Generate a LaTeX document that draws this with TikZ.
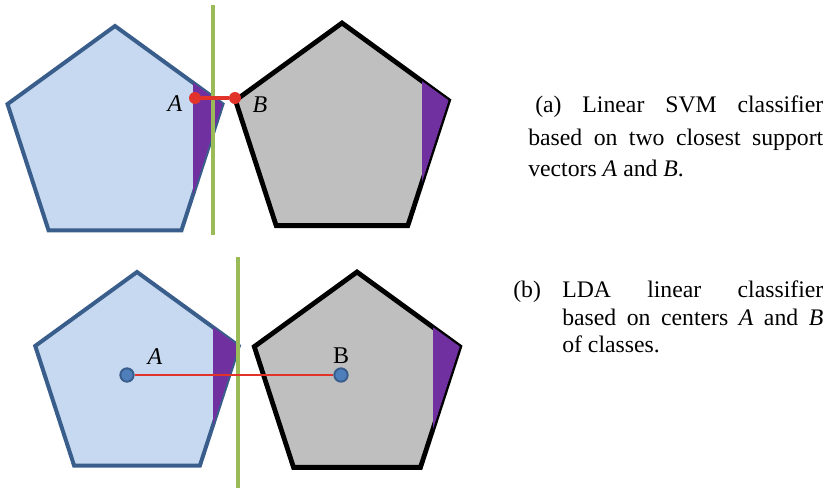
\documentclass[tikz,border=0pt]{standalone}
\usepackage{fontspec}
\setmainfont{Liberation Serif}
\definecolor{classblue}{HTML}{C6D9F0}
\definecolor{edgeblue}{HTML}{3A5E8C}
\definecolor{classgray}{HTML}{BFBFBF}
\definecolor{margin}{HTML}{7030A0}
\definecolor{hyperplane}{HTML}{9BBB59}
\definecolor{linkred}{HTML}{E2332A}
\definecolor{centerblue}{HTML}{4F7FBA}
\begin{document}
\begin{tikzpicture}[x=0.75pt,y=-0.75pt,
  support/.style={circle,fill=linkred,inner sep=0pt,minimum size=9pt},
  center/.style={circle,fill=centerblue,draw=edgeblue,line width=1.5pt,inner sep=0pt,minimum size=10pt},
  lab/.style={inner sep=0pt,font=\fontsize{18}{20}\selectfont},
  caption/.style={inner sep=0pt,anchor=base west,font=\fontsize{17.8}{20}\selectfont}]
\useasboundingbox (0,0) rectangle (828,494);

\foreach \cx/\cy/\r/\cut/\fc/\dc/\lw in {115/139/113/193/classblue/edgeblue/3pt,342/135/112/422/classgray/black/3.6pt,137/379/107/213/classblue/edgeblue/3pt,357/380/108/433/classgray/black/3.6pt}
{
\draw[fill=\fc,draw=\dc,line width=\lw,shift={(\cx,\cy)}] (270:\r) -- (342:\r) -- (54:\r) -- (126:\r) -- (198:\r) -- cycle;
\begin{scope}
\clip[shift={(\cx,\cy)}] (270:\r) -- (342:\r) -- (54:\r) -- (126:\r) -- (198:\r) -- cycle;
\fill[margin] (\cut,0) rectangle (828,494);
\end{scope}
}

\coordinate (svmtop) at (213,5);
\coordinate (svmbot) at (213,235);
\draw[hyperplane,line width=3pt] (svmtop) -- (svmbot);
\node[support] (svmA) at (195,98) {};
\node[support] (svmB) at (235,98) {};
\draw[linkred,line width=2.5pt] (svmA) -- (svmB);
\node[lab] (labsvmA) at (175,103.5) {\textit{A}};
\node[lab] (labsvmB) at (260,104.5) {\textit{B}};

\coordinate (ldatop) at (238,257);
\coordinate (ldabot) at (238,488);
\draw[hyperplane,line width=3pt] (ldatop) -- (ldabot);
\node[center] (ldaA) at (127,375) {};
\node[center] (ldaB) at (341,375) {};
\draw[linkred,line width=1.2pt] (ldaA) -- (ldaB);
\node[lab] (labldaA) at (155,357) {\textit{A}};
\node[lab] (labldaB) at (341,356) {B};

\node[caption] (capa1) at (535,112) {\makebox[216pt][s]{(a) Linear SVM classifier}};
\node[caption] (capa2) at (528,145) {\makebox[221.25pt][s]{based on two closest support}};
\node[caption] (capa3) at (528,176) {vectors \textit{A} and \textit{B}.};

\node[caption] (capb0) at (513,297) {(b)};
\node[caption] (capb1) at (562,297) {\makebox[195.75pt][s]{LDA linear classifier}};
\node[caption] (capb2) at (562,325) {\makebox[195.75pt][s]{based on centers \textit{A} and \textit{B}}};
\node[caption] (capb3) at (562,352) {of classes.};
\end{tikzpicture}
\end{document}
